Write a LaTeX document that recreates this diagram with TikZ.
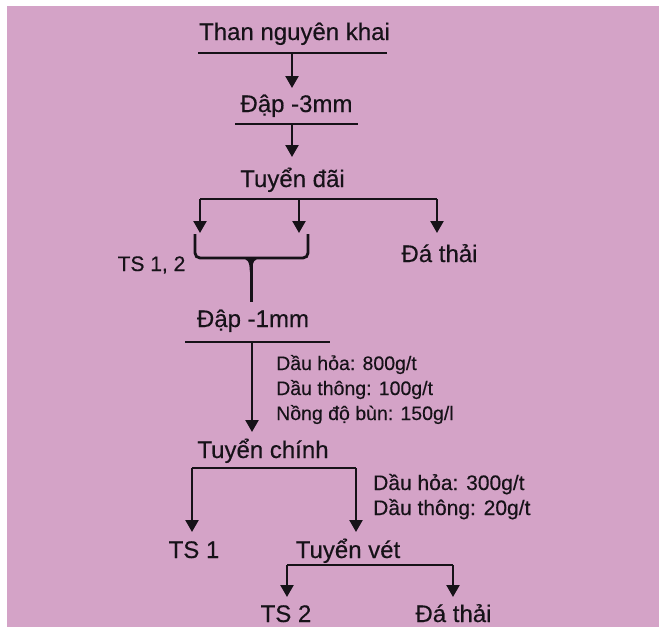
\documentclass[tikz,border=0pt]{standalone}
\usepackage{fontspec}
\setmainfont[BoldFont=Liberation Sans,BoldFeatures={FakeBold=0.35}]{Liberation Sans}
\usetikzlibrary{arrows.meta}
\definecolor{bgpink}{RGB}{212,163,199}
\definecolor{ink}{RGB}{22,18,24}
\begin{document}
\begin{tikzpicture}[x=1pt,y=-1pt,
  lbl/.style={anchor=base,inner sep=0pt,text=ink,font=\fontsize{24}{28}\selectfont\bfseries},
  lblsm/.style={anchor=base,inner sep=0pt,text=ink,font=\fontsize{21}{25}\selectfont\bfseries},
  note/.style={anchor=base west,inner sep=0pt,text=ink,font=\fontsize{19.5}{24}\selectfont\bfseries},
  notebig/.style={anchor=base west,inner sep=0pt,text=ink,font=\fontsize{21}{25}\selectfont\bfseries},
  bar/.style={draw=ink,line width=2.4pt},
  bracket/.style={draw=ink,line width=2.8pt,rounded corners=5pt},
  arr/.style={draw=ink,line width=2.3pt,-{Triangle[width=13pt,length=12pt]}}]
\useasboundingbox (0,0) rectangle (659,627);
\fill[white] (0,0) rectangle (659,627);
\fill[bgpink] (7,6) rectangle (659,627);

% ---- texts ----
\node[lbl] (n1) at (294.5,40) {Than nguyên khai};
\node[lbl] (n2) at (296.5,112) {Đập -3mm};
\node[lbl] (n3) at (292.5,187) {Tuyển đãi};
\node[lblsm] (ts12) at (151.5,271) {TS 1, 2};
\node[lbl] (da1) at (439.5,262) {Đá thải};
\node[lbl] (n4) at (253,327) {Đập -1mm};
\node[note] (c1) at (276,370) {Dầu hỏa: 800g/t};
\node[note] (c2) at (276,395) {Dầu thông: 100g/t};
\node[note] (c3) at (276,420) {Nồng độ bùn: 150g/l};
\node[lbl] (n5) at (263,458) {Tuyển chính};
\node[notebig] (d1) at (373,490) {Dầu hỏa: 300g/t};
\node[notebig] (d2) at (373,515) {Dầu thông: 20g/t};
\node[lbl] (ts1) at (194,558) {TS 1};
\node[lbl] (n6) at (348,558) {Tuyển vét};
\node[lbl] (ts2) at (286,622) {TS 2};
\node[lbl] (da2) at (453.5,622) {Đá thải};

% ---- Than nguyen khai -> Dap -3mm ----
\coordinate (u1L) at (198,53); \coordinate (u1R) at (387,53);
\draw[bar] (u1L) -- (u1R);
\coordinate (a1s) at (292,53); \coordinate (a1e) at (292,88);
\draw[arr] (a1s) -- (a1e);

% ---- Dap -3mm -> Tuyen dai ----
\coordinate (u2L) at (235,124); \coordinate (u2R) at (358,124);
\draw[bar] (u2L) -- (u2R);
\coordinate (a2s) at (292,124); \coordinate (a2e) at (292,157);
\draw[arr] (a2s) -- (a2e);

% ---- Tuyen dai split ----
\coordinate (h3L) at (200,199); \coordinate (h3M) at (299,199); \coordinate (h3R) at (437,199);
\draw[bar] (h3L) -- (h3R);
\coordinate (t3L) at (200,233); \coordinate (t3M) at (299,233); \coordinate (t3R) at (437,233);
\draw[arr] (h3L) -- (t3L);
\draw[arr] (h3M) -- (t3M);
\draw[arr] (h3R) -- (t3R);

% ---- bracket TS 1,2 -> Dap -1mm ----
\coordinate (bL) at (195,234); \coordinate (bR) at (308,234);
\coordinate (bC) at (251,258); \coordinate (bS) at (251,302);
\draw[bracket] (bL) -- (195,258) -- (308,258) -- (bR);
\fill[ink] (240,258) .. controls (248,258) and (249.8,262) .. (249.8,272)
  -- (252.2,272) .. controls (252.2,262) and (254,258) .. (262,258) -- cycle;
\draw[draw=ink,line width=3pt] (bC) -- (bS);

% ---- Dap -1mm -> Tuyen chinh ----
\coordinate (u4L) at (185,342); \coordinate (u4R) at (330,342);
\draw[bar] (u4L) -- (u4R);
\coordinate (a4s) at (252,342); \coordinate (a4e) at (252,432);
\draw[arr] (a4s) -- (a4e);

% ---- Tuyen chinh split ----
\coordinate (h5L) at (192,468); \coordinate (h5R) at (356,468);
\draw[bar] (h5L) -- (h5R);
\coordinate (t5L) at (192,532); \coordinate (t5R) at (356,532);
\draw[arr] (h5L) -- (t5L);
\draw[arr] (h5R) -- (t5R);

% ---- Tuyen vet split ----
\coordinate (h6L) at (287,565); \coordinate (h6R) at (453,565);
\draw[bar] (h6L) -- (h6R);
\coordinate (t6L) at (287,597); \coordinate (t6R) at (453,597);
\draw[arr] (h6L) -- (t6L);
\draw[arr] (h6R) -- (t6R);
\end{tikzpicture}
\end{document}
